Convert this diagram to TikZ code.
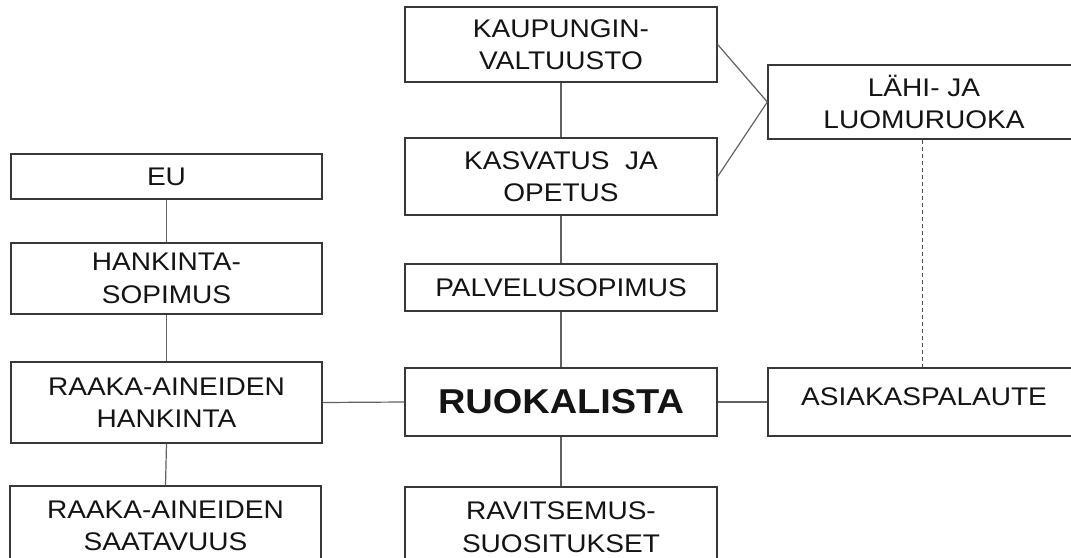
\documentclass[tikz,border=0pt]{standalone}
\usepackage{fontspec}
\setmainfont{Liberation Sans}[FakeStretch=1.1]
\begin{document}
\begin{tikzpicture}[x=1pt,y=-1pt,
  box/.style={draw=black!78, line width=1.3pt, rectangle, inner sep=0pt,
    align=center, text=black!92, font=\fontsize{25.5}{32.5}\selectfont},
  conn/.style={draw=black!62, line width=1.2pt},
  dconn/.style={draw=black!70, line width=1pt, dash pattern=on 4pt off 3pt}]
\useasboundingbox (0,0) rectangle (1071,557);
\clip (0,0) rectangle (1071,557);
\fill[white] (0,0) rectangle (1071,557);
% middle column
\node[box, minimum width=312pt, minimum height=75pt] (kau) at (561,44.5) {KAUPUNGIN-\\VALTUUSTO};
\node[box, minimum width=312pt, minimum height=77pt] (kas) at (561,176.5) {KASVATUS\ \ JA\\OPETUS};
\node[box, minimum width=312pt, minimum height=47pt] (pal) at (561,287.5) {PALVELUSOPIMUS};
\node[box, minimum width=312pt, minimum height=68pt, font=\fontsize{34.5}{40}\selectfont\bfseries] (ruo) at (561,402) {RUOKALISTA};
\node[box, minimum width=312pt, minimum height=80pt] (rav) at (561,527) {RAVITSEMUS-\\SUOSITUKSET};
% left column
\node[box, minimum width=311pt, minimum height=45pt] (eu) at (166.5,176.5) {EU};
\node[box, minimum width=311pt, minimum height=71pt] (han) at (166.5,278.5) {HANKINTA-\\SOPIMUS};
\node[box, minimum width=311pt, minimum height=81pt] (raa) at (166.5,402.5) {RAAKA-AINEIDEN\\HANKINTA};
\node[box, minimum width=311pt, minimum height=80pt] (saa) at (165.5,526) {RAAKA-AINEIDEN\\SAATAVUUS};
% right column
\node[box, minimum width=312pt, minimum height=74pt] (lah) at (924,102) {LÄHI- JA\\LUOMURUOKA};
\node[box, minimum width=312pt, minimum height=68pt] (asi) at (924,402) {\raisebox{10pt}{ASIAKASPALAUTE}};
% connectors
\draw[conn] (kau.south) -- (kas.north);
\draw[conn] (kas.south) -- (pal.north);
\draw[conn] (pal.south) -- (ruo.north);
\draw[conn] (ruo.south) -- (rav.north);
\draw[conn] (eu.south) -- (han.north);
\draw[conn] (han.south) -- (raa.north);
\draw[conn] (raa.south) -- (saa.north);
\draw[conn] (raa.east) -- (ruo.west);
\draw[conn] (ruo.east) -- (asi.west);
\draw[conn] (kau.east) -- (lah.west);
\draw[conn] (kas.east) -- (lah.west);
\draw[dconn] ([xshift=-2pt]lah.south) -- ([xshift=-2pt]asi.north);
\end{tikzpicture}
\end{document}
